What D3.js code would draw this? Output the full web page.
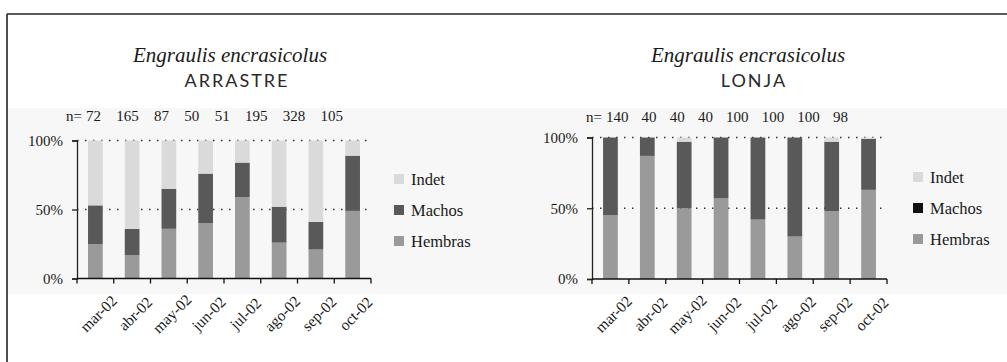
<!DOCTYPE html>
<html>
<head>
<meta charset="utf-8">
<script src="https://cdn.jsdelivr.net/npm/d3@7"></script>
<style>
  html, body { margin: 0; padding: 0; background: #fff; }
  svg { display: block; }
  text { font-family: "Liberation Serif", "Times New Roman", serif; fill: #1a1a1a; }
</style>
</head>
<body>
<svg id="chart" width="1007" height="362"></svg>
<script>
// Monthly samples, March–October 2002
const months = ["mar-02", "abr-02", "may-02", "jun-02", "jul-02", "ago-02", "sep-02", "oct-02"];
const seriesNames = ["Hembras", "Machos", "Indet"];
const yTicks = [0, 50, 100];

// ARRASTRE (trawl) — percentage of each sex per month, and sample size
const arrastreHembras = [25, 17, 36, 40, 59, 26, 21, 49];
const arrastreMachos  = [28, 19, 29, 36, 25, 26, 20, 40];
const arrastreIndet   = [47, 64, 35, 24, 16, 48, 59, 11];
const arrastreN       = [72, 165, 87, 50, 51, 195, 328, 105];

// LONJA (fish market) — percentage of each sex per month, and sample size
const lonjaHembras = [45, 87, 50, 57, 42, 30, 48, 63];
const lonjaMachos  = [55, 13, 47, 43, 58, 70, 49, 36];
const lonjaIndet   = [0, 0, 3, 0, 0, 0, 3, 1];
const lonjaN       = [140, 40, 40, 40, 100, 100, 100, 98];

const svg = d3.select("#chart");

// light backdrop behind the plotting band and the sheet frame
svg.append("rect").attr("x", 8).attr("y", 108).attr("width", 999).attr("height", 186).attr("fill", "#f7f7f7");
svg.append("line").attr("x1", 7).attr("x2", 1007).attr("y1", 14).attr("y2", 14)
  .attr("stroke", "#222").attr("stroke-width", 1.6);
svg.append("line").attr("x1", 7).attr("x2", 7).attr("y1", 14).attr("y2", 362)
  .attr("stroke", "#222").attr("stroke-width", 1.6);

const barColors = { Hembras: "#9a9a9a", Machos: "#595959", Indet: "#dadada" };

function drawPanel(cfg) {
  const g = svg.append("g");
  const rows = months.map((m, i) => ({
    month: m,
    Hembras: cfg.hembras[i],
    Machos: cfg.machos[i],
    Indet: cfg.indet[i]
  }));
  const stacked = d3.stack().keys(seriesNames)(rows);

  const x = d3.scaleBand().domain(months).range(cfg.xRange)
    .paddingInner(0.6).paddingOuter(0.3);
  const y = d3.scaleLinear().domain([0, 100]).range(cfg.yRange);

  // titles
  g.append("text").attr("x", cfg.titleX).attr("y", 62)
    .attr("text-anchor", "middle").style("font-style", "italic").style("font-size", "21px")
    .text("Engraulis encrasicolus");
  g.append("text").attr("x", cfg.subX).attr("y", 87)
    .attr("text-anchor", "middle").style("font-family", "Lato, 'Open Sans', sans-serif")
    .style("font-size", "18px").style("letter-spacing", "2px").style("fill", "#2a2a2a")
    .text(cfg.subtitle);

  // sample sizes: "n=" prefix, then the counts spread over the label row
  const prefix = g.append("text").attr("x", cfg.nX).attr("y", cfg.nY)
    .style("font-size", "15px").text("n=");
  const countsX = cfg.nX + prefix.node().getComputedTextLength() + 4;
  const nText = g.append("text").attr("x", countsX).attr("y", cfg.nY)
    .style("font-size", "15px")
    .text(cfg.n.join(" "));
  const natural = nText.node().getComputedTextLength();
  nText.style("word-spacing", ((cfg.nEnd - countsX - natural) / (cfg.n.length - 1)) + "px");

  // dotted reference lines
  g.selectAll(".grid").data([50, 100]).enter().append("line")
    .attr("x1", cfg.xRange[0]).attr("x2", cfg.xRange[1])
    .attr("y1", d => y(d)).attr("y2", d => y(d))
    .attr("stroke", "#333").attr("stroke-width", 1.4)
    .attr("stroke-dasharray", "1.5,6.5");

  // stacked bars
  g.selectAll(".series").data(stacked).enter().append("g")
    .attr("fill", d => barColors[d.key])
    .selectAll("rect").data(d => d).enter().append("rect")
    .attr("x", d => x(d.data.month))
    .attr("width", x.bandwidth())
    .attr("y", d => y(d[1]))
    .attr("height", d => y(d[0]) - y(d[1]));

  // y axis
  const yAxis = g.append("g").attr("transform", `translate(${cfg.xRange[0]},0)`)
    .call(d3.axisLeft(y).tickValues(yTicks).tickFormat(d => d + "%").tickSize(5).tickPadding(9));
  yAxis.select(".domain").attr("stroke", "#222").attr("stroke-width", 1.3);
  yAxis.selectAll(".tick line").attr("stroke", "#222").attr("stroke-width", 1.3);
  yAxis.selectAll(".tick text").style("font-family", "'Liberation Serif', serif")
    .style("font-size", "15px").attr("fill", "#1a1a1a");

  // x axis with ticks on band boundaries
  const x0 = cfg.xRange[0], step = x.step();
  const axisY = y(0);
  g.append("line").attr("x1", x0).attr("x2", cfg.xRange[1]).attr("y1", axisY).attr("y2", axisY)
    .attr("stroke", "#111").attr("stroke-width", 1.6);
  g.selectAll(".xtick").data(d3.range(months.length + 1)).enter().append("line")
    .attr("x1", i => x0 + i * step).attr("x2", i => x0 + i * step)
    .attr("y1", axisY).attr("y2", axisY + 5)
    .attr("stroke", "#111").attr("stroke-width", 1.3);
  g.selectAll(".xlab").data(months).enter().append("text")
    .attr("transform", m => `translate(${x(m) + x.bandwidth() / 2 + 3},${axisY + 35}) rotate(-45)`)
    .attr("text-anchor", "middle").attr("dominant-baseline", "central")
    .style("font-size", "15.5px")
    .text(m => m);

  // legend
  const legend = g.selectAll(".leg").data(["Indet", "Machos", "Hembras"]).enter().append("g")
    .attr("transform", (d, i) => `translate(${cfg.legX},${cfg.legY + i * 31})`);
  legend.append("rect").attr("x", 0).attr("y", -5).attr("width", 10).attr("height", 10)
    .attr("fill", d => cfg.legendColors[d]);
  legend.append("text").attr("x", 17).attr("y", 0).attr("dominant-baseline", "central")
    .style("font-size", "16.5px").text(d => d);
}

drawPanel({
  subtitle: "ARRASTRE",
  hembras: arrastreHembras, machos: arrastreMachos, indet: arrastreIndet, n: arrastreN,
  xRange: [77, 371], yRange: [278.5, 140.5],
  titleX: 230, subX: 237,
  nX: 66, nY: 121, nEnd: 343,
  legX: 394, legY: 179,
  legendColors: { Indet: "#dadada", Machos: "#595959", Hembras: "#9a9a9a" }
});

drawPanel({
  subtitle: "LONJA",
  hembras: lonjaHembras, machos: lonjaMachos, indet: lonjaIndet, n: lonjaN,
  xRange: [592, 887], yRange: [279, 137.5],
  titleX: 748, subX: 754,
  nX: 586, nY: 122, nEnd: 848,
  legX: 913, legY: 177,
  legendColors: { Indet: "#dadada", Machos: "#111111", Hembras: "#9a9a9a" }
});
</script>
</body>
</html>
